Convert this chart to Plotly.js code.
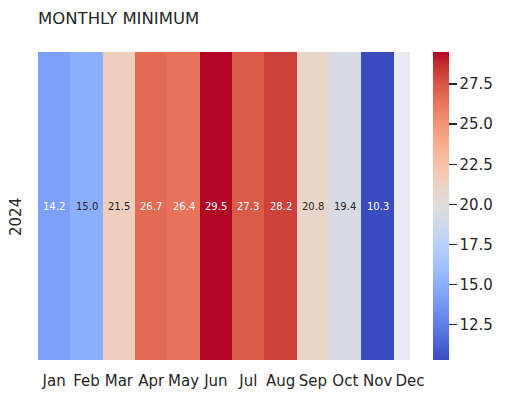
<!DOCTYPE html>
<html><head><meta charset="utf-8">
<script src="https://cdn.plot.ly/plotly-3.0.1.min.js"></script>
<style>html,body{margin:0;padding:0;background:#fff}#chart{width:505px;height:399px}</style>
</head><body><div id="chart"></div>
<script>
const months = ['Jan','Feb','Mar','Apr','May','Jun','Jul','Aug','Sep','Oct','Nov','Dec'];
const years = ['2024'];
const minimum2024 = [14.2, 15.0, 21.5, 26.7, 26.4, 29.5, 27.3, 28.2, 20.8, 19.4, 10.3, null];
const chartTitle = 'MONTHLY MINIMUM';

// matplotlib "coolwarm" (Moreland) sample points
const coolwarm = [
 [59,76,192],[68,90,204],[77,104,215],[87,117,225],[98,130,234],[108,142,241],[119,154,247],[130,165,251],
 [141,176,254],[152,185,255],[163,194,255],[174,201,253],[184,208,249],[194,213,244],[204,217,238],[213,219,230],
 [221,221,221],[229,216,209],[236,211,197],[241,204,185],[245,196,173],[247,187,160],[247,177,148],[247,166,135],
 [244,154,123],[241,141,111],[236,127,99],[229,112,88],[222,96,77],[213,80,66],[203,62,56],[192,40,47],[180,4,38]
];
const n = coolwarm.length - 1;
const colorscale = coolwarm.map((c, i) => [i / n, `rgb(${c[0]},${c[1]},${c[2]})`]);

const vals = minimum2024.filter(v => v !== null);
const zmin = Math.min(...vals), zmax = Math.max(...vals);

function colorAt(v) {
  const t = Math.max(0, Math.min(1, (v - zmin) / (zmax - zmin))) * n;
  const i = Math.min(n - 1, Math.floor(t)), f = t - i;
  return coolwarm[i].map((c, k) => c + (coolwarm[i + 1][k] - c) * f);
}
function lum(rgb) {
  const lin = rgb.map(c => { c /= 255; return c <= 0.03928 ? c / 12.92 : Math.pow((c + 0.055) / 1.055, 2.4); });
  return 0.2126 * lin[0] + 0.7152 * lin[1] + 0.0722 * lin[2];
}

const xIdx = months.map((m, i) => i);
const annotations = [];
minimum2024.forEach((v, i) => {
  if (v === null) return;
  annotations.push({
    x: i, y: 0, xref: 'x', yref: 'y', text: v.toFixed(1), showarrow: false,
    font: {family: 'DejaVu Sans', size: 10, color: lum(colorAt(v)) > 0.408 ? '#262626' : '#ffffff'}
  });
});
// row label (seaborn places the rotated label slightly below centre)
annotations.push({
  xref: 'paper', yref: 'paper', x: -22 / 372, y: (360 - 217) / 308,
  xanchor: 'center', yanchor: 'middle', text: years[0], textangle: -90, showarrow: false,
  font: {family: 'DejaVu Sans', size: 15, color: '#262626'}
});

const trace = {
  type: 'heatmap',
  x: xIdx, y: [0], z: [minimum2024],
  zmin: zmin, zmax: zmax,
  colorscale: colorscale,
  hoverongaps: false,
  colorbar: {
    x: (433 - 38) / 372, xanchor: 'left', xpad: 0, xref: 'paper',
    y: 0.5, yanchor: 'middle', ypad: 0, len: 1, lenmode: 'fraction',
    thickness: 16, outlinewidth: 0,
    ticks: 'outside', ticklen: 8, tickwidth: 1.4, tickcolor: '#262626',
    tickvals: [12.5, 15, 17.5, 20, 22.5, 25, 27.5],
    ticktext: ['12.5', '15.0', '17.5', '20.0', '22.5', '25.0', '27.5'],
    tickfont: {family: 'DejaVu Sans', size: 15, color: '#262626'}
  }
};

const layout = {
  width: 505, height: 399,
  margin: {l: 38, r: 95, t: 52, b: 39},
  paper_bgcolor: '#ffffff', plot_bgcolor: '#EAEAF2',
  title: {
    text: chartTitle, xref: 'container', yref: 'container',
    x: 38 / 505, xanchor: 'left', y: 1 - 18 / 399, yanchor: 'middle',
    font: {family: 'DejaVu Sans', size: 16.5, color: '#262626'}
  },
  xaxis: {
    range: [-0.5, 11], tickvals: xIdx, ticktext: months,
    showgrid: false, zeroline: false, showline: false, ticks: '',
    ticklabelstandoff: 10,
    tickfont: {family: 'DejaVu Sans', size: 15, color: '#262626'}
  },
  yaxis: {
    range: [-0.5, 0.5], tickvals: [0], ticktext: [''],
    showgrid: false, zeroline: false, showline: false, ticks: ''
  },
  annotations: annotations
};

Plotly.newPlot('chart', [trace], layout, {displayModeBar: false, staticPlot: true});
</script></body></html>
